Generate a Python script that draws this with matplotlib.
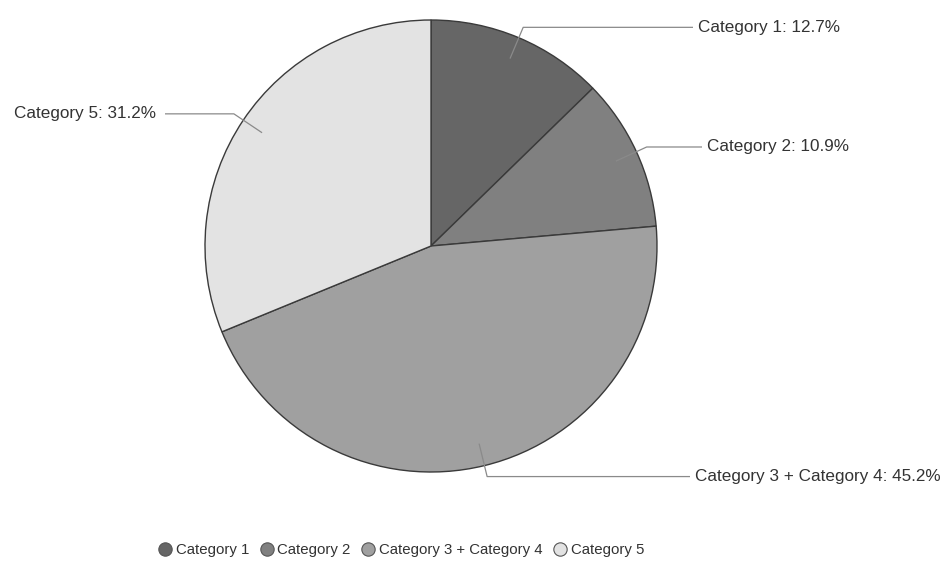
import matplotlib
matplotlib.use("Agg")
import matplotlib.pyplot as plt
from matplotlib.lines import Line2D
import numpy as np

plt.rcParams['font.family'] = ['Liberation Sans', 'DejaVu Sans']

categories = ["Category 1", "Category 2", "Category 3 + Category 4", "Category 5"]
shares = [12.7, 10.9, 45.2, 31.2]
colors = ["#666666", "#808080", "#a0a0a0", "#e3e3e3"]

W, H = 944, 565
fig = plt.figure(figsize=(W / 100, H / 100), dpi=100)
ax = fig.add_axes([0, 0, 1, 1])

cx, cy, R = 431, H - 246, 226
wedges, _ = ax.pie(shares, colors=colors, startangle=90, counterclock=False,
                   center=(cx, cy), radius=R, frame=True,
                   wedgeprops=dict(edgecolor="#3a3a3a", linewidth=1.0))
ax.set_xlim(0, W)
ax.set_ylim(0, H)
ax.set_aspect("equal")
ax.axis("off")

# label layout: end x of the horizontal leader segment, and which side the text sits on
label_ends = [693, 702, 690, 165]
label_side = ["right", "right", "right", "left"]

cum = 0.0
for name, val, xend, side in zip(categories, shares, label_ends, label_side):
    mid = np.deg2rad(90 - (cum + val / 2) * 3.6)
    cum += val
    x0, y0 = cx + 0.9 * R * np.cos(mid), cy + 0.9 * R * np.sin(mid)
    x1, y1 = cx + 1.05 * R * np.cos(mid), cy + 1.05 * R * np.sin(mid)
    ax.plot([x0, x1, xend], [y0, y1, y1], color="#8a8a8a", lw=0.9,
            solid_capstyle="butt", zorder=5)
    txt = f"{name}: {val:.1f}%"
    if side == "right":
        ax.text(xend + 5, y1, txt, ha="left", va="center", fontsize=12.3, color="#333333")
    else:
        ax.text(xend - 9, y1, txt, ha="right", va="center", fontsize=12.3, color="#333333")

handles = [Line2D([], [], marker="o", linestyle="none", markersize=9.6,
                  markerfacecolor=c, markeredgecolor="#555555", markeredgewidth=0.8)
           for c in colors]
leg = ax.legend(handles, categories, loc="center", bbox_to_anchor=(401 / W, (H - 550) / H),
                ncol=4, frameon=False, fontsize=10.8, handletextpad=0.25,
                columnspacing=0.7, handlelength=0.93, borderpad=0)
for t in leg.get_texts():
    t.set_color("#333333")

fig.savefig("out.png", dpi=100, facecolor="white")
